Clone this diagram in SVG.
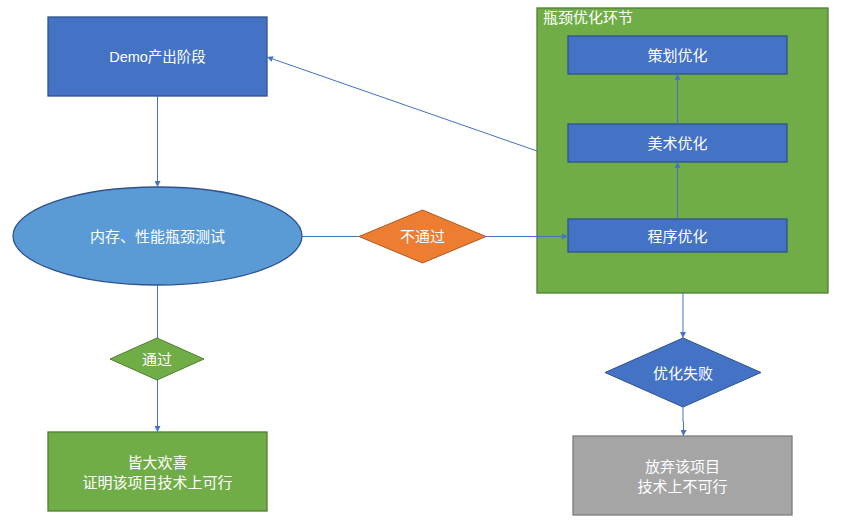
<svg xmlns="http://www.w3.org/2000/svg" width="863" height="524" viewBox="0 0 863 524">
<defs>
<marker id="arr" viewBox="0 0 10 10" refX="10" refY="5" markerWidth="6" markerHeight="6" markerUnits="userSpaceOnUse" orient="auto">
<path d="M0,0 L10,5 L0,10 z" fill="#4472C4"/>
</marker>
<style>
.t{font-family:"Liberation Sans","Noto Sans CJK SC",sans-serif;font-size:15px;fill:#ffffff;text-anchor:middle;dominant-baseline:central}
.blue{fill:#4472C4;stroke:#2F528F;stroke-width:1.3}
.green{fill:#70AD47;stroke:#507E32;stroke-width:1.3}
.c{stroke:#4472C4;stroke-width:1;fill:none}
</style>
</defs>
<rect width="863" height="524" fill="#ffffff"/>
<g id="container">
<rect class="green" x="537" y="8" width="291" height="285"/>
<text class="t" x="543" y="17" style="text-anchor:start">瓶颈优化环节</text>
</g>
<g id="demo">
<rect class="blue" x="48" y="17" width="219" height="79"/>
<text class="t" x="157.5" y="56.5" style="font-size:14.5px">Demo产出阶段</text>
</g>
<g id="test">
<ellipse cx="157.5" cy="236" rx="144.5" ry="49" fill="#5B9BD5" stroke="#2F528F" stroke-width="1.3"/>
<text class="t" x="157.5" y="236">内存、性能瓶颈测试</text>
</g>
<g id="fail">
<polygon points="359,236.5 422.5,210 486,236.5 422.5,263" fill="#ED7D31" stroke="#AE5A21" stroke-width="1"/>
<text class="t" x="422.5" y="236.5">不通过</text>
</g>
<g id="pass">
<polygon points="110,359 157,338 204,359 157,380" class="green" style="stroke-width:1"/>
<text class="t" x="157" y="359">通过</text>
</g>
<g id="happy">
<rect class="green" x="48" y="432" width="219" height="79"/>
<text class="t" x="157.5" y="462">皆大欢喜</text>
<text class="t" x="157.5" y="482">证明该项目技术上可行</text>
</g>
<g id="plan">
<rect class="blue" x="568" y="36" width="219" height="38"/>
<text class="t" x="677.5" y="55">策划优化</text>
</g>
<g id="art">
<rect class="blue" x="568" y="124" width="219" height="38"/>
<text class="t" x="677.5" y="143">美术优化</text>
</g>
<g id="prog">
<rect class="blue" x="568" y="219" width="219" height="33"/>
<text class="t" x="677.5" y="236">程序优化</text>
</g>
<g id="optfail">
<polygon class="blue" style="stroke-width:1" points="605,372.5 683,338 761,372.5 683,407"/>
<text class="t" x="683" y="373">优化失败</text>
</g>
<g id="giveup">
<rect x="573" y="436" width="219" height="79" fill="#A5A5A5" stroke="#7C7C7C" stroke-width="1.3"/>
<text class="t" x="682.5" y="466">放弃该项目</text>
<text class="t" x="682.5" y="486">技术上不可行</text>
</g>
<g id="connectors">
<line class="c" x1="157.5" y1="96" x2="157.5" y2="187" marker-end="url(#arr)"/>
<line class="c" x1="302" y1="236.5" x2="359" y2="236.5"/>
<line class="c" x1="486" y1="236.5" x2="568" y2="236.5" marker-end="url(#arr)"/>
<line class="c" x1="677.5" y1="219" x2="677.5" y2="162" marker-end="url(#arr)"/>
<line class="c" x1="677.5" y1="124" x2="677.5" y2="74" marker-end="url(#arr)"/>
<line class="c" x1="537" y1="151" x2="267" y2="57" marker-end="url(#arr)"/>
<line class="c" x1="157.5" y1="285" x2="157.5" y2="338"/>
<line class="c" x1="157.5" y1="380" x2="157.5" y2="432" marker-end="url(#arr)"/>
<line class="c" x1="683" y1="293" x2="683" y2="338" marker-end="url(#arr)"/>
<polyline class="c" points="683,407 683,422 683.5,422 683.5,436" marker-end="url(#arr)"/>
</g>
</svg>
